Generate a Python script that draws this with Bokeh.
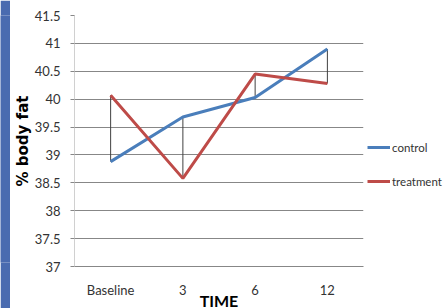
from bokeh.plotting import figure
from bokeh.layouts import row
from bokeh.models import FactorRange, Range1d, Legend, LegendItem
from bokeh.embed import file_html
from bokeh.resources import INLINE

times = ["Baseline", "3", "6", "12"]
control = [38.88, 39.68, 40.03, 40.90]
treatment = [40.07, 38.58, 40.45, 40.28]
y_ticks = [37, 37.5, 38, 38.5, 39, 39.5, 40, 40.5, 41, 41.5]

NARROW = "Lato"

# left blue band
band = figure(width=10, height=308, output_backend="svg", toolbar_location=None,
              min_border=0, background_fill_color="#4A6BB0", border_fill_color="#4A6BB0")
band.outline_line_color = None
band.axis.visible = False
band.grid.visible = False

p = figure(x_range=FactorRange(*times, range_padding=0), y_range=Range1d(37, 41.5),
           frame_width=289, frame_height=251, output_backend="svg", toolbar_location=None,
           min_border_left=60, min_border_right=0, min_border_top=15, min_border_bottom=42)
p.outline_line_color = None
p.background_fill_color = "white"

# hi-low lines
lo = [min(a, b) for a, b in zip(control, treatment)]
hi = [max(a, b) for a, b in zip(control, treatment)]
p.segment(x0=times, y0=lo, x1=times, y1=hi, line_color="#404040", line_width=1)

r1 = p.line(times, control, line_color="#4A7EBB", line_width=3)
r2 = p.line(times, treatment, line_color="#BE4B48", line_width=3)

# grid
p.xgrid.grid_line_color = None
p.ygrid.grid_line_color = "#878787"
p.ygrid.grid_line_width = 1
p.ygrid.ticker = y_ticks

# y axis
p.yaxis.ticker = y_ticks
p.yaxis.major_label_overrides = {37: "37", 38: "38", 39: "39", 40: "40", 41: "41"}
p.yaxis.axis_line_color = "#D0D0D0"
p.yaxis.major_tick_line_color = "#878787"
p.yaxis.major_tick_out = 4
p.yaxis.major_tick_in = 0
p.yaxis.minor_tick_line_color = None
p.yaxis.major_label_standoff = 10
p.yaxis.major_label_text_font = NARROW
p.yaxis.major_label_text_font_size = "13px"
p.yaxis.major_label_text_color = "#333333"
p.yaxis.axis_label = "% body fat"
p.yaxis.axis_label_text_font = "DejaVu Sans"
p.yaxis.axis_label_text_font_style = "bold"
p.yaxis.axis_label_text_font_size = "15px"
p.yaxis.axis_label_text_color = "black"
p.yaxis.axis_label_standoff = 0

# x axis
p.xaxis.axis_line_color = "#878787"
p.xaxis.major_tick_line_color = None
p.xaxis.major_tick_out = 0
p.xaxis.major_label_standoff = 15
p.xaxis.major_label_text_font = NARROW
p.xaxis.major_label_text_font_size = "13px"
p.xaxis.major_label_text_color = "#333333"
p.xaxis.axis_label = "TIME"
p.xaxis.axis_label_text_font = NARROW
p.xaxis.axis_label_text_font_style = "bold"
p.xaxis.axis_label_text_font_size = "16px"
p.xaxis.axis_label_text_color = "black"
p.xaxis.axis_label_standoff = -10

legend = Legend(items=[LegendItem(label="control", renderers=[r1]),
                       LegendItem(label="treatment", renderers=[r2])],
                location=(4, 75), orientation="vertical")
legend.glyph_width = 23
legend.glyph_height = 20
legend.spacing = 14
legend.padding = 0
legend.margin = 0
legend.label_standoff = 2
legend.label_text_font = NARROW
legend.label_text_font_size = "11.5px"
legend.label_text_color = "#333333"
legend.border_line_color = None
legend.background_fill_alpha = 0
p.add_layout(legend, "right")

layout = row(band, p, spacing=0)
open("out.html", "w").write(file_html(layout, INLINE))
